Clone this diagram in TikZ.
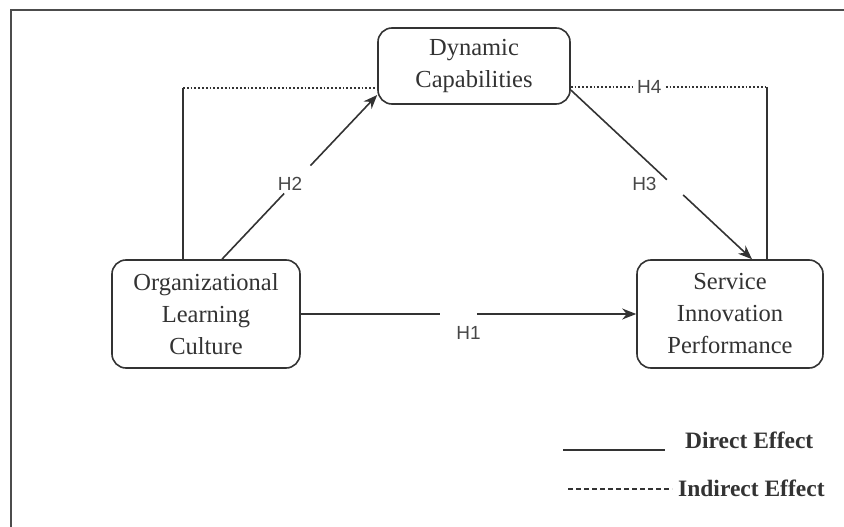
\documentclass[tikz,border=0pt]{standalone}
\usepackage{fontspec}
\setmainfont{Liberation Serif}
\newfontfamily\hypfont{Liberation Sans}
\usepackage{tikz}
\usetikzlibrary{shapes, arrows.meta}
\definecolor{inkgray}{HTML}{333333}
\tikzstyle{block} = [rectangle, rounded corners=14pt, draw=inkgray, line width=1.6pt, text=inkgray, align=center, font=\fontsize{24.5}{32}\selectfont]
\tikzstyle{hyp} = [text=inkgray!90, font=\hypfont\fontsize{19}{21}\selectfont, inner sep=3pt]
\tikzstyle{arrow} = [draw=inkgray, line width=1.6pt, -{Stealth[length=14pt,width=11pt]}]
\tikzstyle{direct} = [draw=inkgray, line width=1.6pt]
\tikzstyle{indirect} = [draw=inkgray, line width=1.8pt, dotted]
\tikzstyle{legend} = [text=inkgray, inner sep=0pt, font=\bfseries\fontsize{23.5}{26}\selectfont]

\begin{document}
\begin{tikzpicture}[x=1pt, y=-1pt, node distance=248pt]
        \useasboundingbox (0,0) rectangle (844,527);
        % frame
        \draw [line width=2pt, draw=gray!60!black] (11,527) -- (11,10) -- (844,10);

        % blocks
        \node [block, minimum width=192pt, minimum height=76pt] (dyn) at (474,66) {Dynamic\\Capabilities};
        \node [block, below of=dyn, xshift=-268pt, minimum width=188pt, minimum height=108pt] (olc) {Organizational\\Learning\\Culture};
        \node [block, right of=olc, node distance=524pt, minimum width=186pt, minimum height=108pt] (sip) {Service\\Innovation\\Performance};

        % anchor points
        \coordinate (h2s) at ([xshift=16pt]olc.north);
        \coordinate (h2e) at ([yshift=-29pt]dyn.west);
        \coordinate (h3s) at ([yshift=-24pt]dyn.east);
        \coordinate (h3e) at ([xshift=22pt]sip.north);
        \coordinate (dynL) at ([yshift=-22pt]dyn.west);
        \coordinate (dynR) at ([yshift=-21pt]dyn.east);
        \coordinate (olcT) at ([xshift=-23pt]olc.north);
        \coordinate (sipT) at ([xshift=37pt]sip.north);

        % arrows
        \path (olc.east) -- (sip.west) coordinate[pos=.415] (h1a) coordinate[pos=.525] (h1b) node[hyp, pos=.5, yshift=-19pt] (h1) {H1};
        \draw [direct] (olc.east) -- (h1a);
        \draw [arrow] (h1b) -- (sip.west);

        \path (h2s) -- (h2e) coordinate[pos=.40] (h2a) coordinate[pos=.57] (h2b) node[hyp, pos=.49, xshift=-8pt, yshift=-5pt] (h2) {H2};
        \draw [direct] (h2s) -- (h2a);
        \draw [arrow] (h2b) -- (h2e);

        \path (h3s) -- (h3e) coordinate[pos=.53] (h3a) coordinate[pos=.62] (h3b) node[hyp, pos=.5, xshift=-17pt, yshift=-9pt] (h3) {H3};
        \draw [direct] (h3s) -- (h3a);
        \draw [arrow] (h3b) -- (h3e);

        \draw [direct] (olcT) -- (olcT |- dynL);
        \draw [indirect] (olcT |- dynL) -- (dynL);
        \draw [indirect] (dynR) -- (sipT |- dynR) node[hyp, pos=.4, fill=white] (h4) {H4};
        \draw [direct] (sipT |- dynR) -- (sipT);

        % legend
        \coordinate (dirA) at (563,450);
        \coordinate (dirB) at (665,450);
        \coordinate (indA) at (568,489);
        \coordinate (indB) at (672,489);
        \draw [direct] (dirA) -- (dirB);
        \node [legend, anchor=west] (dirtxt) at (685,440) {Direct Effect};
        \draw [direct, line width=1.4pt, dash pattern=on 5pt off 3pt] (indA) -- (indB);
        \node [legend, anchor=west] (indtxt) at (678,488) {Indirect Effect};
    \end{tikzpicture}
\end{document}
